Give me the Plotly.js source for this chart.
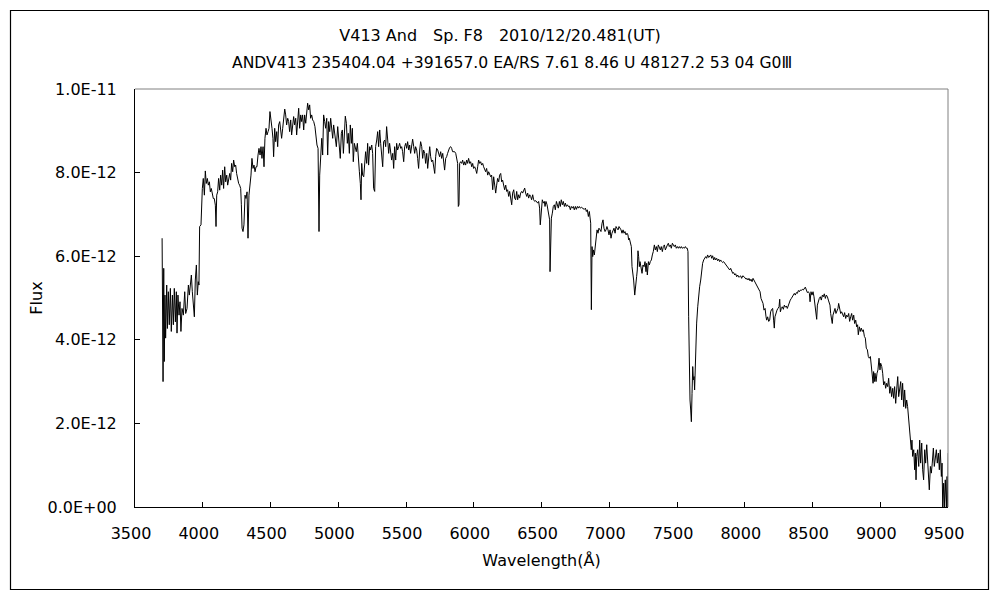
<!DOCTYPE html>
<html>
<head>
<meta charset="utf-8">
<script src="https://cdn.plot.ly/plotly-3.0.1.min.js"></script>
<style>html,body{margin:0;padding:0;background:#fff;}#chart{width:1000px;height:600px;}</style>
</head>
<body>
<div id="chart"></div>
<script>
// Wavelength (Å)
const wavelength = [
3700,3702,3707,3712,3716,3721,3726,3734,3739,3746,3753,3761,3768,3776,3783,3790,3798,3805,3810,3817,
3825,3832,3839,3847,3857,3867,3874,3884,3894,3901,3908,3916,3923,3931,3938,3945,3953,3960,3967,3972,
3977,3987,3992,3997,4004,4012,4019,4026,4034,4041,4049,4056,4063,4071,4078,4085,4093,4098,4103,4110,
4117,4125,4132,4140,4147,4154,4162,4169,4177,4184,4191,4199,4206,4213,4221,4228,4236,4243,4250,4258,
4265,4272,4280,4285,4290,4297,4304,4312,4319,4327,4334,4341,4349,4356,4363,4371,4378,4386,4393,4400,
4408,4415,4423,4430,4437,4445,4452,4459,4467,4474,4482,4489,4496,4504,4511,4518,4523,4531,4538,4546,
4553,4560,4568,4575,4582,4590,4597,4605,4612,4619,4627,4634,4641,4649,4656,4664,4671,4678,4686,4693,
4700,4708,4715,4723,4730,4737,4745,4752,4760,4767,4774,4782,4789,4796,4804,4811,4819,4828,4836,4843,
4851,4853,4858,4863,4870,4878,4885,4892,4900,4907,4915,4922,4929,4937,4944,4951,4959,4966,
4976,4986,4996,5006,5015,5023,5030,5038,5045,5052,5060,5067,5074,5082,5089,5097,5104,5111,5119,5126,
5133,5141,5148,5156,5163,5168,5173,5180,5188,5195,5202,5210,5217,5224,5232,5239,5247,5254,5261,5269,
5276,5284,5291,5298,5306,5313,5320,5328,5335,5343,5350,5357,5365,5372,5379,5387,5394,5402,5409,5416,
5424,5431,5438,5446,5453,5461,5468,5475,5483,5490,5498,5505,5512,5520,5527,5534,5542,5549,5557,5564,
5571,5579,5586,5593,5601,5608,5616,5623,5630,5638,5645,5653,5660,5667,5675,5682,5689,5697,5704,5712,
5719,5726,5734,5741,5748,5756,5763,5771,5778,5785,5793,5800,5807,5815,5822,5830,5837,5844,5852,5859,
5867,5874,5881,5886,5891,5896,5903,5911,5918,5926,5933,5940,5948,5955,5962,5970,5977,5985,5992,5999,
6007,6014,6022,6029,6036,6044,6051,6058,6066,6073,6081,6088,6095,6103,6110,6117,6125,6132,6140,6147,
6154,6162,6169,6176,6184,6191,6199,6206,6213,6221,6228,6236,6243,6250,6258,6265,6272,6280,6287,6295,
6302,6309,6317,6324,6331,6339,6346,6354,6361,6368,6376,6383,6391,6398,6405,6413,6420,6427,6435,6442,
6450,6457,6464,6472,6479,6486,6491,6499,6506,6514,6521,
6526,6533,6541,6548,6555,6560,6563,6568,6573,6580,6587,6595,6602,6610,6617,6624,6632,6639,6646,6654,
6661,6669,6676,6683,6691,6698,6705,6713,6720,6728,6735,6742,6750,6757,6765,6772,6779,6787,6794,6801,
6809,6816,6824,6831,6838,6846,6853,6858,6863,6868,6873,6878,6883,6890,6897,6902,6910,6917,6924,6932,
6939,6947,6954,6961,6969,6976,6983,6991,6998,7006,7013,7020,7028,7035,7043,7050,7057,7065,7072,7079,
7087,7094,7102,7109,7116,7124,7131,7138,7143,7148,7156,7163,7168,7173,7180,7188,7193,7197,7202,7207,
7212,7217,7222,7227,7234,7242,7249,7257,7264,7271,7276,7281,7289,7296,7303,7311,7318,7325,7333,7340,
7348,7355,7362,7370,7377,7384,7392,7399,7407,7414,7421,7429,7436,7443,7451,7458,7466,7473,7480,7488,
7495,7503,7510,7517,7525,7532,7539,7547,7554,7562,7569,7576,7581,7586,7591,7596,7601,7606,7611,7616,
7621,7626,7630,7635,7640,7645,7653,7660,7667,7675,7682,7689,7697,7704,7712,7719,7726,7734,7741,7749,
7756,7763,7771,7778,7785,7793,7800,7808,7815,7822,7830,7837,7844,7852,7859,7867,7874,7881,7889,7896,
7904,7911,7918,7926,7933,7940,7948,7955,7963,7970,7977,7985,7995,
8002,8009,8017,8024,8031,8039,8046,8054,8061,8068,8076,8083,8090,8098,8105,8113,8120,8127,8135,8142,
8150,8157,8162,8169,8177,8184,8191,8199,8206,8213,8218,8223,8231,8238,8245,8253,8258,8263,8270,8277,
8285,8292,8300,8307,8314,8322,8329,8336,8344,8351,8359,8366,8373,8381,8388,8396,8403,8410,8418,8425,
8432,8440,8447,8455,8462,8469,8477,8482,8489,8496,8504,8511,8519,8526,8531,8536,8543,8550,8558,8565,
8573,8580,8587,8595,8602,8610,8617,8624,8629,8634,8639,8646,8651,8659,8666,8673,8681,8688,8693,8701,
8708,8715,8723,8730,8737,8745,8752,8760,8767,8774,8782,8789,8796,8804,8811,8819,8826,8833,8838,8846,
8853,8860,8868,8875,8883,8890,8897,8905,8912,8919,8927,8934,8942,8947,8951,8956,8961,8969,8976,8983,
8991,8998,9003,9011,9018,9025,9033,9040,9047,9055,9062,9070,9077,9084,9092,9099,9106,9114,9121,9129,
9136,9143,9151,9158,9165,9173,9180,9188,9195,9202,9210,9217,9222,9229,9234,9239,9247,9254,9259,9264,
9269,9276,9284,9291,9298,9306,9313,9320,9328,9335,9343,9350,9357,9362,9370,9377,9384,9392,9399,9407,
9414,9421,9429,9436,9443,9451,9456,9461,9468,9473,9480,9488,9493,9498,9502
];

// Flux in units of 1E-12
const fluxE12 = [
6.43,4.99,3.00,5.71,3.48,5.07,4.04,5.31,4.27,5.15,4.36,5.23,4.20,5.07,4.36,5.23,4.43,5.15,4.16,5.07,
4.59,4.91,4.20,4.75,4.59,5.15,4.63,4.75,5.31,5.07,5.39,5.55,5.15,4.83,4.55,5.43,5.79,5.07,5.39,5.31,
6.71,6.75,7.38,7.62,7.86,7.46,8.04,7.74,7.86,7.70,7.78,7.54,7.62,7.50,7.38,7.38,7.22,6.71,7.46,7.54,
7.86,7.58,7.94,7.70,8.06,7.62,8.14,7.78,7.94,7.70,7.86,7.98,7.82,8.22,8.02,8.30,8.14,8.18,7.98,7.78,
7.74,7.70,7.62,7.23,6.67,6.59,6.75,7.46,7.38,7.54,6.43,7.46,7.70,7.94,8.34,8.10,8.18,8.02,8.14,8.14,
8.42,8.58,8.42,8.62,8.34,8.62,8.14,8.82,9.06,8.90,8.98,9.06,9.46,9.30,9.06,8.82,8.38,9.06,8.74,8.98,
8.62,9.14,9.22,9.02,8.82,9.06,9.38,9.52,9.38,9.14,9.30,9.22,8.98,9.26,8.90,9.22,9.34,9.14,9.30,8.90,
9.30,9.54,9.06,9.38,9.22,9.38,9.02,9.38,9.18,9.54,9.66,9.50,9.62,9.30,9.38,9.26,9.22,9.10,8.82,8.66,
8.58,7.23,6.59,7.94,8.50,8.82,8.42,9.38,9.22,9.06,9.30,8.42,9.22,8.98,9.30,9.10,8.82,9.14,
8.90,8.62,9.10,8.70,8.34,8.94,9.02,8.46,8.78,9.35,9.18,8.70,8.94,8.46,9.14,8.70,9.06,8.26,8.70,8.62,
8.50,8.70,8.46,8.02,7.74,7.35,8.22,7.94,7.90,8.30,8.50,8.22,8.70,8.18,8.62,8.54,8.66,8.46,7.62,7.55,
8.62,8.78,8.98,8.62,9.02,8.70,8.42,8.14,8.74,8.78,8.62,9.10,8.78,8.46,8.70,8.46,8.30,8.46,8.10,8.62,
8.30,8.70,8.54,8.62,8.70,8.58,8.62,8.50,8.26,8.62,8.70,8.58,8.74,8.54,8.66,8.46,8.74,8.80,8.62,8.46,
8.62,8.54,8.34,8.10,8.54,8.74,8.62,8.34,8.54,8.46,8.22,8.46,8.10,8.34,8.62,8.38,8.26,8.30,8.14,7.98,
8.38,8.58,8.54,8.46,8.38,8.50,8.34,8.46,8.26,8.06,8.34,8.38,8.46,8.54,8.60,8.62,8.58,8.50,8.50,8.50,
8.46,8.30,8.22,7.19,7.23,8.22,8.26,8.22,8.30,8.18,8.26,8.18,8.30,8.22,8.34,8.22,8.26,8.14,8.22,8.10,
8.14,8.08,7.98,8.14,8.30,8.22,8.26,8.18,8.22,8.14,8.06,8.02,8.10,7.94,8.02,7.98,7.90,7.94,7.59,7.90,
7.66,7.51,7.70,7.86,7.78,7.94,7.98,7.78,7.82,7.66,7.59,7.70,7.55,7.59,7.43,7.55,7.35,7.23,7.51,7.59,
7.39,7.35,7.55,7.35,7.47,7.39,7.51,7.55,7.51,7.59,7.63,7.51,7.43,7.51,7.39,7.47,7.43,7.35,7.47,7.35,
7.31,7.33,7.31,7.27,7.31,7.15,6.75,7.23,7.35,7.27,7.31,
7.19,7.31,7.23,7.07,6.91,6.87,5.63,6.39,6.91,7.03,7.19,7.23,7.11,7.31,7.23,7.15,7.31,7.19,7.35,7.23,
7.31,7.19,7.27,7.19,7.23,7.19,7.20,7.11,7.19,7.15,7.19,7.11,7.19,7.12,7.19,7.15,7.19,7.15,7.17,7.15,
7.15,7.12,7.15,7.07,7.11,6.95,7.07,6.87,6.79,4.72,6.23,5.99,6.15,6.03,6.23,6.51,6.63,6.55,6.67,6.63,
6.59,6.79,6.87,6.67,6.59,6.63,6.71,6.63,6.51,6.63,6.43,6.55,6.63,6.67,6.55,6.71,6.67,6.63,6.71,6.67,
6.63,6.55,6.63,6.55,6.59,6.51,6.55,6.51,6.39,6.43,6.35,6.23,5.75,5.51,5.43,5.07,5.31,5.27,5.51,5.67,
6.13,5.99,5.75,5.87,5.71,5.59,5.79,5.75,5.87,5.63,5.83,5.55,5.87,5.79,5.87,5.91,6.03,6.11,6.27,6.15,
6.23,6.11,6.27,6.19,6.15,6.23,6.11,6.23,6.27,6.15,6.23,6.27,6.31,6.23,6.27,6.19,6.31,6.27,6.23,6.27,
6.19,6.23,6.19,6.23,6.19,6.23,6.19,6.21,6.19,6.23,6.19,6.19,6.11,4.55,3.36,2.56,2.32,2.04,2.72,3.36,
3.04,3.12,2.80,3.36,3.99,4.40,4.79,5.11,5.27,5.43,5.67,5.83,5.91,5.95,5.99,5.95,6.03,5.97,5.99,6.03,
5.95,6.01,5.91,5.97,5.91,5.95,5.89,5.93,5.87,5.91,5.87,5.85,5.87,5.83,5.79,5.77,5.73,5.71,5.67,5.71,
5.63,5.59,5.61,5.55,5.58,5.51,5.55,5.50,5.51,5.53,5.47,5.53,5.51,
5.49,5.45,5.47,5.43,5.47,5.41,5.45,5.39,5.47,5.43,5.39,5.35,5.31,5.27,5.23,5.15,4.99,4.95,4.87,4.71,
4.75,4.55,4.47,4.55,4.44,4.47,4.67,4.73,4.75,4.47,4.28,4.55,4.67,4.71,4.75,4.79,4.97,4.67,4.75,4.79,
4.73,4.83,4.78,4.81,4.75,4.83,4.87,4.95,4.99,5.03,5.07,5.11,5.07,5.13,5.11,5.18,5.15,5.19,5.18,5.21,
5.19,5.23,5.26,5.19,5.13,5.15,5.11,4.91,5.15,5.07,5.15,5.03,4.83,4.75,4.49,4.83,4.95,4.99,5.03,4.95,
5.07,5.03,5.10,4.99,5.07,5.03,4.95,4.87,4.83,4.63,4.55,4.39,4.59,4.67,4.75,4.63,4.71,4.75,4.87,4.67,
4.63,4.67,4.59,4.55,4.65,4.51,4.59,4.55,4.63,4.44,4.55,4.63,4.47,4.59,4.39,4.47,4.31,4.36,4.12,4.31,
4.20,4.28,4.20,4.24,4.08,4.04,3.80,3.76,3.60,3.56,3.60,3.32,3.16,2.96,3.24,3.00,3.20,3.00,3.20,3.28,
3.56,3.28,3.44,3.36,3.20,2.92,3.00,2.84,2.96,2.88,3.08,2.72,2.88,2.64,2.84,2.60,2.88,2.48,2.80,3.12,
2.64,2.88,3.00,2.56,2.96,2.40,2.80,2.36,2.56,2.40,2.08,1.96,1.69,1.37,1.60,1.21,1.37,0.89,1.29,0.65,
1.21,1.37,0.97,1.60,1.05,1.53,0.89,0.65,1.37,1.05,1.49,1.13,0.89,0.41,0.97,0.81,1.05,1.41,0.97,1.21,
1.37,1.05,1.29,0.89,1.37,0.73,1.05,0.00,0.57,0.00,0.65,0.00,0.73,0.00,1.29
];

const xTickVals = [3500,4000,4500,5000,5500,6000,6500,7000,7500,8000,8500,9000,9500];
const yTickVals = [0,2e-12,4e-12,6e-12,8e-12,1e-11];
const yTickText = ['0.0E+00','2.0E-12','4.0E-12','6.0E-12','8.0E-12','1.0E-11'];
const titleLine1 = 'V413 And\u3000Sp. F8\u30002010/12/20.481(UT)';
const titleLine2 = 'ANDV413 235404.04 +391657.0 EA/RS 7.61 8.46 U 48127.2 53 04 G0\u2162';
const xTitle = 'Wavelength(\u212B)';
const yTitle = 'Flux';

const flux = fluxE12.map(v => v * 1e-12);

const FONT = 'DejaVu Sans, Liberation Sans, sans-serif';
const baseFont = {family: FONT, size: 16, color: '#000'};
const line2Font = {family: FONT, size: 15.6, color: '#000'};

const trace = {
  x: wavelength, y: flux, type: 'scatter', mode: 'lines',
  line: {color: '#000', width: 1}, hoverinfo: 'skip', showlegend: false
};

// plot area: x 135..948, y 89..507
const L = 135, R = 948, T = 89, B = 507, W = 1000, H = 600;
const px = x => (x - L) / (R - L);
const py = y => (B - y) / (B - T);

const layout = {
  width: W, height: H,
  margin: {l: L, r: W - R, t: T, b: H - B, pad: 0},
  paper_bgcolor: '#fff', plot_bgcolor: '#fff',
  font: baseFont,
  showlegend: false,
  title: {text: titleLine1, font: baseFont, x: 0.5, xref: 'container', xanchor: 'center',
          y: 1 - 35 / H, yref: 'container', yanchor: 'middle'},
  xaxis: {
    range: [3500, 9500], tickvals: xTickVals, ticktext: xTickVals.map(String),
    ticks: 'inside', ticklen: 5, tickwidth: 1, tickcolor: '#000',
    showline: true, linecolor: '#000', linewidth: 1, mirror: false,
    showgrid: false, zeroline: false, automargin: false,
    tickfont: baseFont, ticklabelshift: -4, ticklabelstandoff: 12,
    title: {text: xTitle, font: baseFont, standoff: 12}
  },
  yaxis: {
    range: [0, 1e-11], tickvals: yTickVals, ticktext: yTickText,
    ticks: 'inside', ticklen: 5, tickwidth: 1, tickcolor: '#000',
    showline: true, linecolor: '#000', linewidth: 1, mirror: false,
    showgrid: false, zeroline: false, automargin: false,
    tickfont: baseFont, ticklabelstandoff: 14,
    title: {text: yTitle, font: baseFont, standoff: 0}
  },
  shapes: [
    {type: 'line', xref: 'paper', yref: 'paper', x0: 0, x1: 1, y0: 1, y1: 1, line: {color: '#808080', width: 1}},
    {type: 'line', xref: 'paper', yref: 'paper', x0: 1, x1: 1, y0: 0, y1: 1, line: {color: '#808080', width: 1}},
    {type: 'rect', xref: 'paper', yref: 'paper', x0: px(10.5), x1: px(988.5), y0: py(589.5), y1: py(10.5),
     line: {color: '#000', width: 1.2}, fillcolor: 'rgba(0,0,0,0)'}
  ],
  annotations: [
    {text: titleLine2, xref: 'paper', yref: 'paper', x: px(512), y: py(63), xanchor: 'center', yanchor: 'middle',
     showarrow: false, font: line2Font}
  ]
};

Plotly.newPlot('chart', [trace], layout, {staticPlot: true, displayModeBar: false});
</script>
</body>
</html>
